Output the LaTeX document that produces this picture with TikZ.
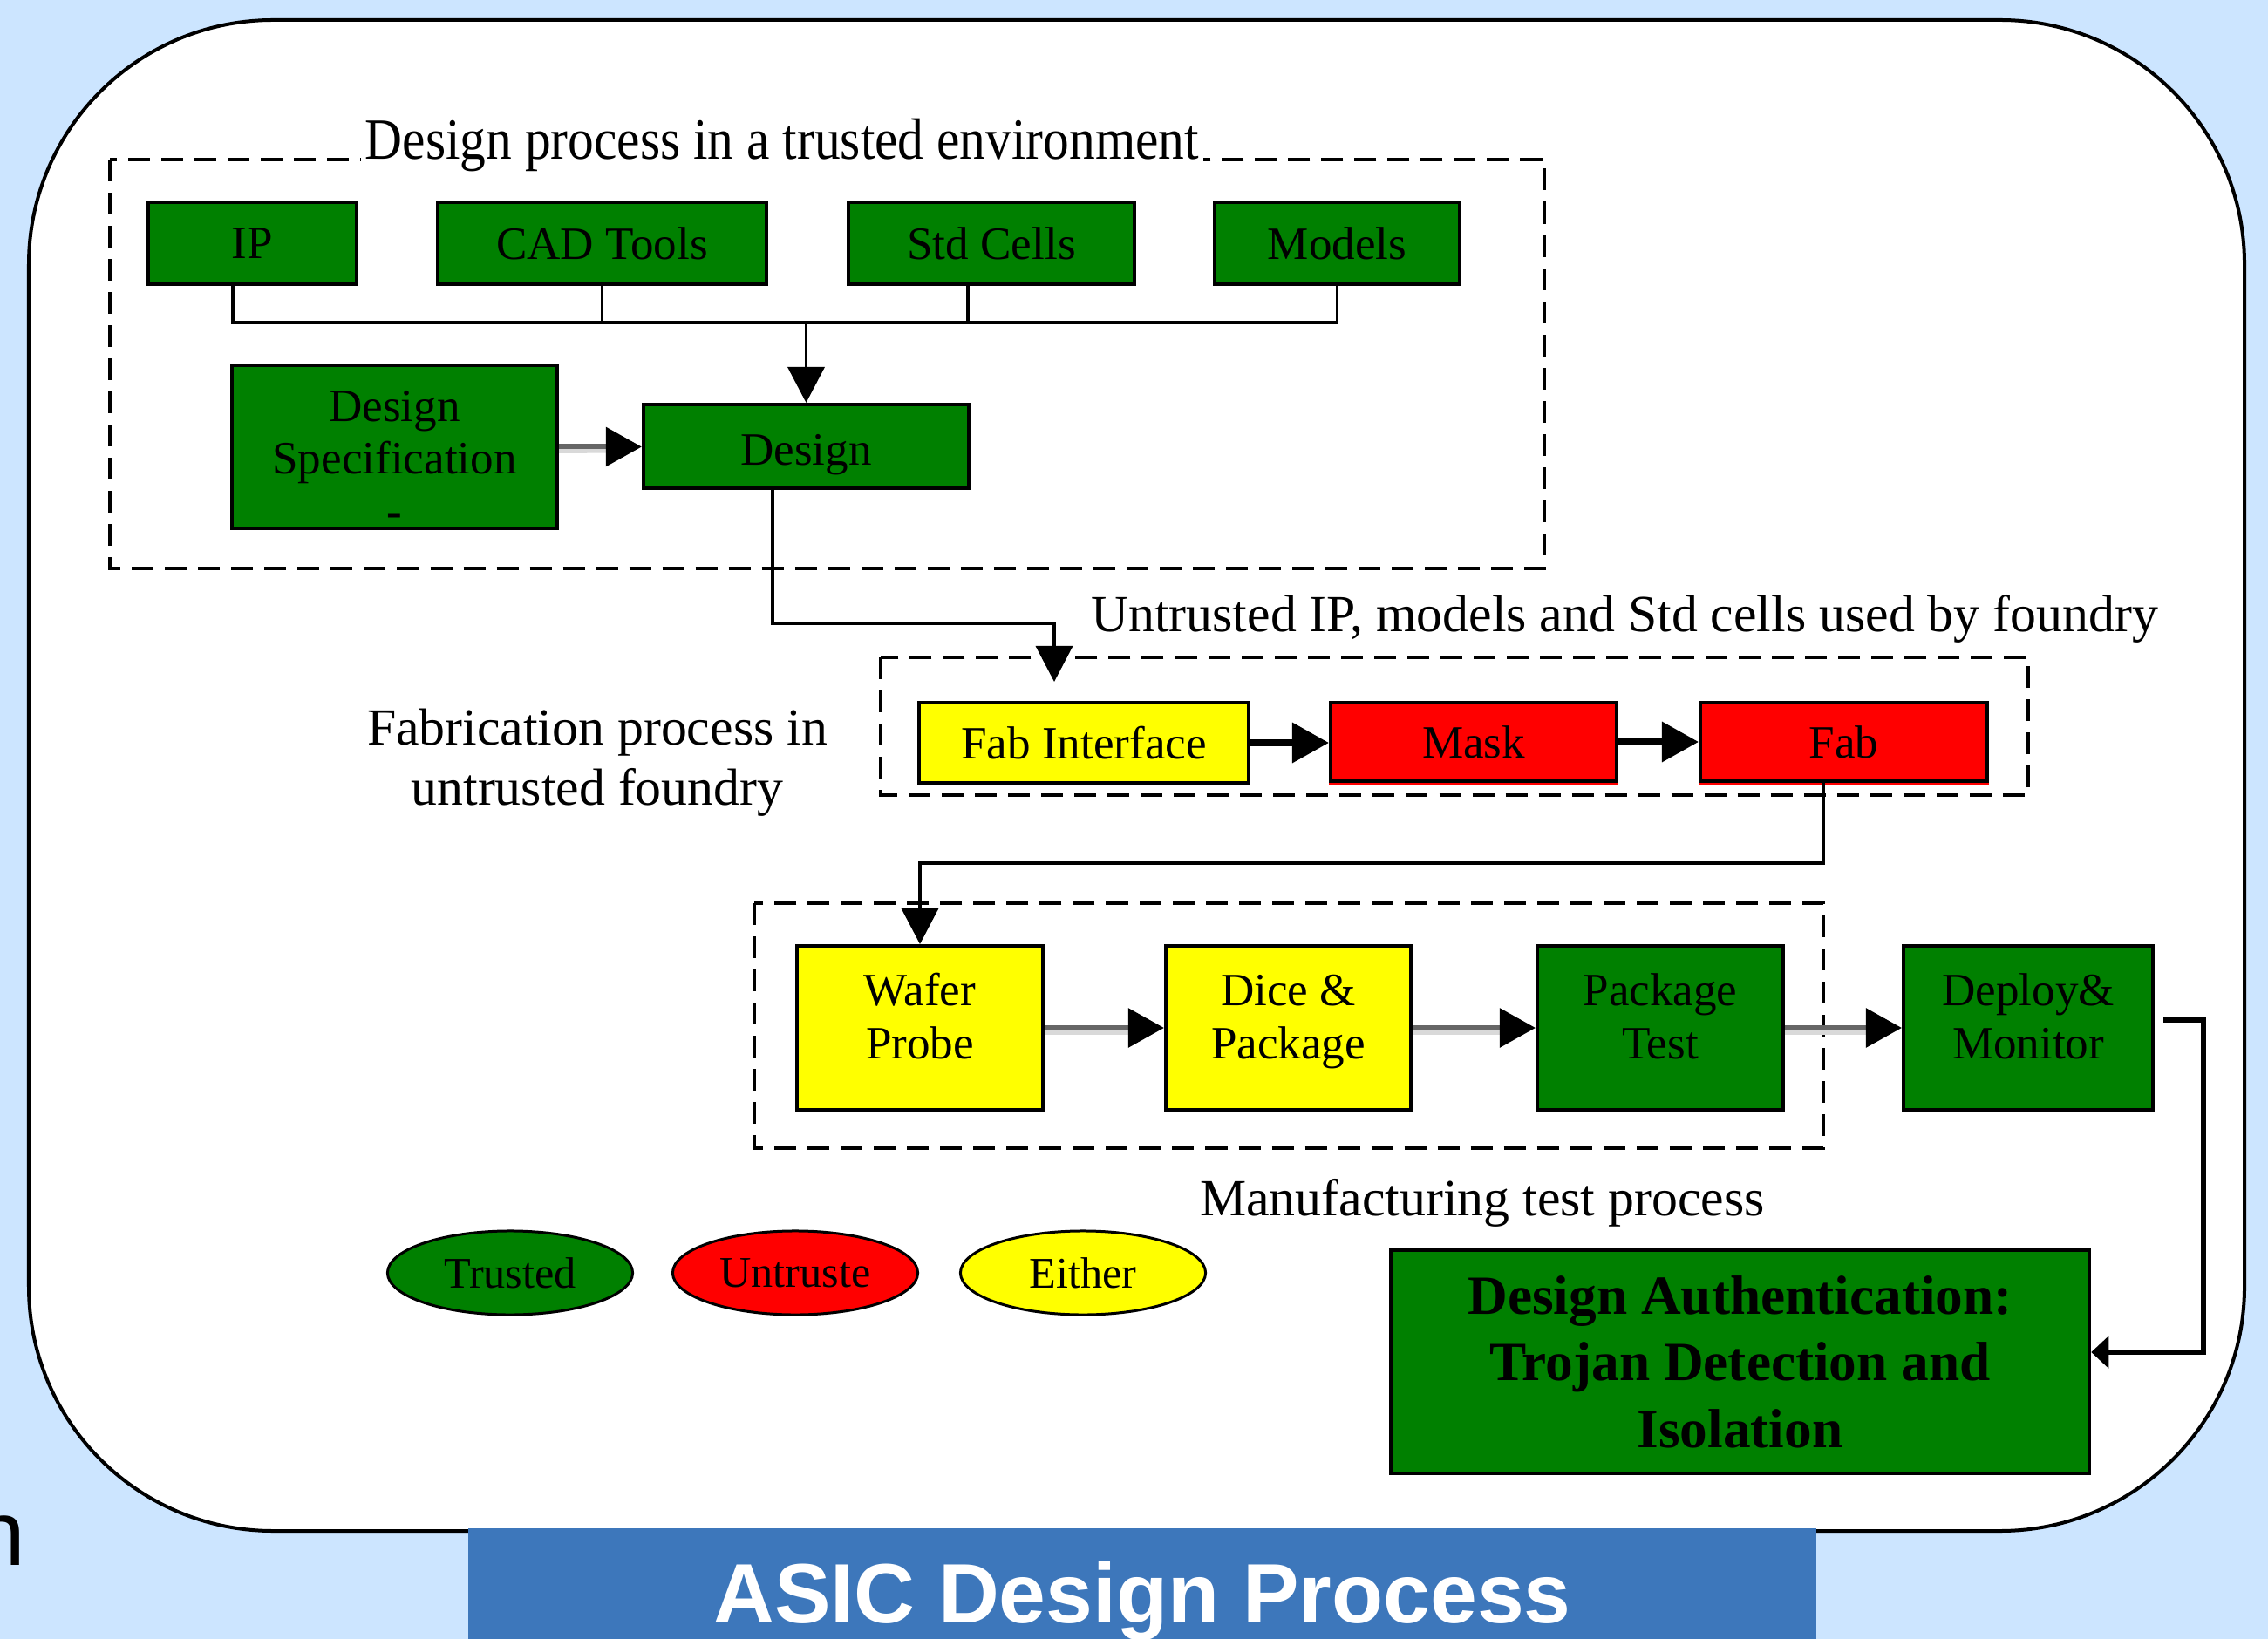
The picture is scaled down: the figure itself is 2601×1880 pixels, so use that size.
\documentclass[tikz,border=0pt]{standalone}
\usepackage{fontspec}
\setmainfont{Liberation Serif}
\newfontfamily\serifc[FakeStretch=0.89]{Liberation Serif}
\newfontfamily\sansf{Liberation Sans}
\usetikzlibrary{arrows.meta,shapes.geometric}
\definecolor{bgblue}{RGB}{204,229,255}
\definecolor{barblue}{RGB}{61,119,187}
\definecolor{boxgreen}{RGB}{0,128,0}
\definecolor{boxyellow}{RGB}{255,255,0}
\definecolor{boxred}{RGB}{255,0,0}
\begin{document}
\begin{tikzpicture}[x=0.01cm,y=-0.01cm,
  box/.style={draw=black,line width=0.04cm,inner sep=0pt,align=center,font=\fontsize{15.1}{17.1}\selectfont},
  gbox/.style={box,fill=boxgreen},
  ybox/.style={box,fill=boxyellow},
  rbox/.style={box,fill=boxred},
  tallbox/.style={minimum width=2.82cm,minimum height=1.88cm,text height=0.7cm,text depth=0cm},
  legend/.style={ellipse,draw=black,line width=0.03cm,inner sep=0pt,minimum width=2.81cm,minimum height=0.96cm,font=\fontsize{14.3}{17}\selectfont},
  region/.style={draw=black,line width=0.035cm,dash pattern=on 0.25cm off 0.13cm},
  conn/.style={draw=black,line width=0.035cm},
  tip/.style={-{Triangle[length=0.41cm,width=0.42cm]}},
  barr/.style={draw=black,line width=0.07cm,-{Triangle[length=0.42cm,width=0.45cm]}},
  garr/.style={draw=black!60,line width=0.06cm,-{Triangle[length=0.41cm,width=0.44cm,color=black]}},
  gshadow/.style={draw=black!15,line width=0.05cm},
  dline/.style={draw=black,line width=0.065cm,-{Triangle[length=0.2cm,width=0.36cm]}},
  plain/.style={font=\fontsize{17}{19.6}\selectfont,inner sep=0pt,align=center}
]
\useasboundingbox (0,0) rectangle (2601,1880);
\fill[bgblue] (0,0) rectangle (2601,1880);
% outer panel
\draw[line width=0.04cm,fill=white,rounded corners=2.8cm] (33,23) rectangle (2574,1756);
% caption bar
\fill[barblue] (537,1753) rectangle (2083,1880);
\node[font=\sansf\bfseries\fontsize{27.5}{33}\selectfont,text=white,anchor=base,inner sep=0pt] (caption) at (1310,1861) {ASIC Design Process};
\node[font=\sansf\fontsize{30}{36}\selectfont,anchor=base west,inner sep=0pt] (frag) at (-30,1795) {n};

% dashed regions
\draw[region] (126,183) rectangle (1771,652);
\draw[region] (1010,754) rectangle (2326,912);
\draw[region] (865,1036) rectangle (2091,1317);

\node[font=\serifc\fontsize{19}{22}\selectfont,fill=white,inner xsep=0.05cm,inner ysep=0.02cm,anchor=base] (ttl) at (897,183) {Design process in a trusted environment};

% boxes
\node[gbox,minimum width=2.39cm,minimum height=0.94cm] (ip) at (289.5,279) {IP};
\node[gbox,minimum width=3.77cm,minimum height=0.94cm] (cad) at (690.5,279) {CAD Tools};
\node[gbox,minimum width=3.28cm,minimum height=0.94cm] (std) at (1137,279) {Std Cells};
\node[gbox,minimum width=2.81cm,minimum height=0.94cm] (mdl) at (1533.5,279) {Models};
\node[gbox,minimum width=3.73cm,minimum height=1.87cm,text height=1.83cm,text depth=0cm] (spec) at (452.5,512.5) {Design\\Specification\\-};
\node[gbox,minimum width=3.73cm,minimum height=0.96cm,text height=0.52cm,text depth=0.1cm] (design) at (924.5,512) {Design};

\node[ybox,minimum width=3.78cm,minimum height=0.92cm] (fabif) at (1243,852) {Fab Interface};
\fill[boxred] ([yshift=-0.02cm,xshift=-0.02cm]1526,896) rectangle ([yshift=-0.05cm,xshift=0.02cm]1854,896);
\fill[boxred] ([yshift=-0.02cm,xshift=-0.02cm]1950,896) rectangle ([yshift=-0.05cm,xshift=0.02cm]2279,896);
\node[rbox,minimum width=3.28cm,minimum height=0.9cm] (mask) at (1690,851) {Mask};
\node[rbox,minimum width=3.29cm,minimum height=0.9cm] (fab) at (2114.5,851) {Fab};

\node[ybox,tallbox] (wafer) at (1055,1179) {Wafer\\Probe};
\node[ybox,tallbox,minimum width=2.81cm] (dice) at (1477.5,1179) {Dice \&\\Package};
\node[gbox,tallbox] (pkg) at (1904,1179) {Package\\Test};
\node[gbox,tallbox,minimum width=2.86cm] (deploy) at (2326,1179) {Deploy\&\\Monitor};

\node[gbox,minimum width=8.01cm,minimum height=2.56cm,font=\bfseries\fontsize{18}{21.8}\selectfont] (da) at (1995.5,1562) {Design Authentication:\\Trojan Detection and\\Isolation};

% legend
\node[legend,fill=boxgreen] (ltr) at (585,1460) {Trusted};
\node[legend,fill=boxred] (lun) at (912,1460) {Untruste};
\node[legend,fill=boxyellow] (lei) at (1242,1460) {Either};

% labels
\node[plain,anchor=base] (untr) at (1863,725) {Untrusted IP, models and Std cells used by foundry};
\node[plain,anchor=base] (fabproc) at (685,923) {Fabrication process in\\untrusted foundry};
\node[plain,anchor=base] (mtp) at (1700,1394) {Manufacturing test process};

% connectors
\coordinate (bus) at (924.5,370);
\draw[conn] ([xshift=-0.225cm]ip.south) |- (bus) -| (mdl.south);
\draw[conn] (cad.south) -- ++(0,44);
\draw[conn] ([xshift=-0.27cm]std.south) -- ++(0,44);
\draw[conn,tip] (bus) -- (design.north);

\draw[gshadow] ([yshift=-0.05cm]spec.east) -- ([yshift=-0.05cm,xshift=-0.3cm]design.west);
\draw[garr] (spec.east) -- (spec.east -| design.west);

\coordinate (t1) at (1209,715);
\coordinate (fabin) at (1209,782);
\draw[conn,tip] ([xshift=-0.385cm]design.south) |- (t1) -- (fabin);

\draw[barr] (fabif.east) -- (fabif.east -| mask.west);
\draw[barr] (mask.east) -- (mask.east -| fab.west);

\coordinate (t2) at (1055,990);
\draw[conn,tip] ([xshift=-0.235cm]fab.south) |- (t2) -- (wafer.north);

\draw[gshadow] ([yshift=-0.05cm]wafer.east) -- ([yshift=-0.05cm,xshift=-0.3cm]dice.west);
\draw[garr] (wafer.east) -- (dice.west);
\draw[gshadow] ([yshift=-0.05cm]dice.east) -- ([yshift=-0.05cm,xshift=-0.3cm]pkg.west);
\draw[garr] (dice.east) -- (pkg.west);
\draw[gshadow] ([yshift=-0.05cm]pkg.east) -- ([yshift=-0.05cm,xshift=-0.3cm]deploy.west);
\draw[garr] (pkg.east) -- (deploy.west);

\coordinate (dstart) at (2481,1170);
\coordinate (dturn) at (2527,1170);
\draw[dline] (dstart) -- (dturn) |- ([yshift=0.11cm]da.east);
\end{tikzpicture}
\end{document}
